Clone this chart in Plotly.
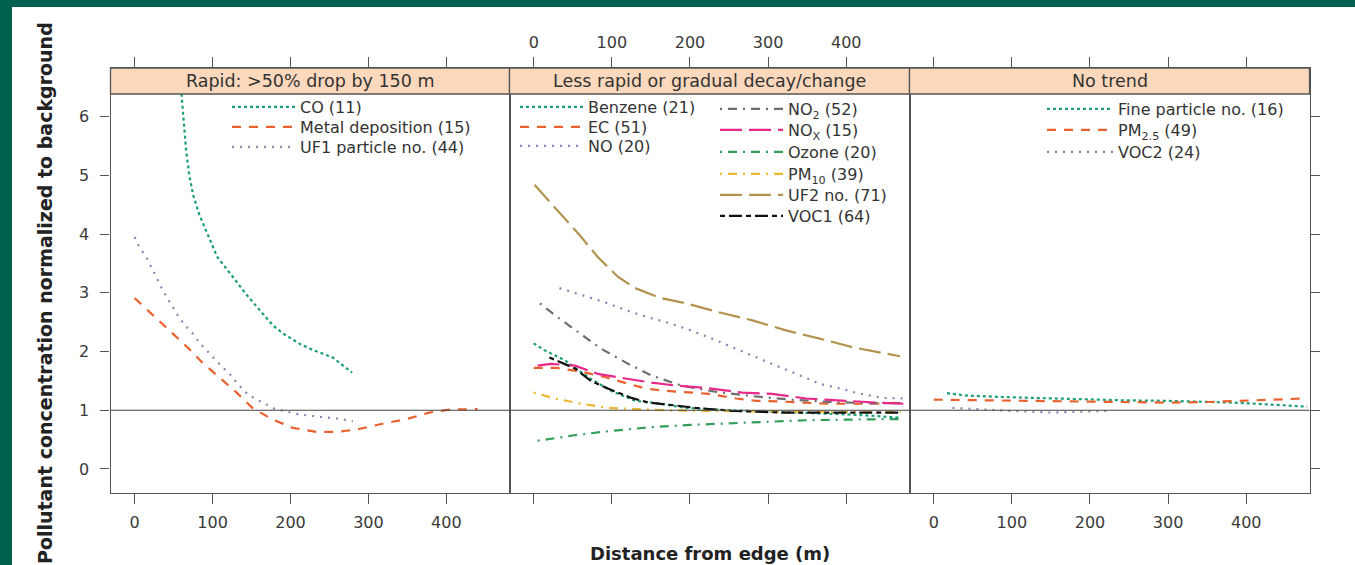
import plotly.graph_objects as go

W, H = 1355, 565

# ---------------- data (distance in m, concentration normalized to background) ----------------
panel_titles = ["Rapid: >50% drop by 150 m", "Less rapid or gradual decay/change", "No trend"]
x_ticks = [0, 100, 200, 300, 400]
y_ticks = [0, 1, 2, 3, 4, 5, 6]

# Panel 1 : rapid
co_x = [57, 60, 63, 66, 70, 75, 83, 94, 106, 126, 144, 157, 177, 190, 212, 228, 254, 279]
co_y = [6.9, 6.39, 6.0, 5.43, 5.01, 4.67, 4.33, 3.99, 3.61, 3.27, 2.96, 2.76, 2.45, 2.31, 2.13, 2.03, 1.90, 1.64]
metal_x = [0, 23, 45, 68, 87, 109, 131, 151, 176, 203, 233, 260, 288, 318, 349, 378, 404, 440]
metal_y = [2.91, 2.62, 2.36, 2.07, 1.81, 1.56, 1.30, 1.04, 0.85, 0.70, 0.63, 0.63, 0.68, 0.77, 0.85, 0.96, 1.01, 1.02]
uf1_x = [0, 6, 15, 21, 28, 34, 41, 49, 56, 65, 75, 83, 92, 103, 113, 124, 132, 143, 154, 167, 180, 194, 207, 222, 237, 250, 265, 280]
uf1_y = [3.95, 3.78, 3.61, 3.44, 3.27, 3.10, 2.93, 2.75, 2.60, 2.44, 2.30, 2.15, 2.02, 1.87, 1.73, 1.59, 1.45, 1.30, 1.20, 1.11, 1.02, 0.98, 0.94, 0.91, 0.89, 0.88, 0.85, 0.81]

# Panel 2 : less rapid / gradual
benzene_x = [0, 14, 40, 70, 99, 130, 164, 195, 250, 300, 350, 400, 440, 470]
benzene_y = [2.14, 2.02, 1.85, 1.56, 1.33, 1.16, 1.11, 1.04, 1.00, 0.98, 0.96, 0.93, 0.90, 0.87]
ec_x = [0, 30, 60, 90, 108, 143, 169, 198, 224, 259, 285, 314, 344, 375, 405, 434, 469]
ec_y = [1.72, 1.72, 1.66, 1.57, 1.50, 1.37, 1.33, 1.30, 1.28, 1.20, 1.16, 1.15, 1.13, 1.11, 1.11, 1.11, 1.13]
no_x = [33, 61, 91, 119, 147, 175, 201, 228, 254, 280, 310, 336, 366, 392, 418, 447, 473]
no_y = [3.08, 2.96, 2.84, 2.70, 2.58, 2.48, 2.36, 2.22, 2.07, 1.93, 1.76, 1.62, 1.45, 1.37, 1.28, 1.21, 1.20]
no2_x = [8, 27, 57, 86, 121, 151, 189, 230, 280, 330, 380, 430, 475]
no2_y = [2.82, 2.62, 2.33, 2.05, 1.79, 1.59, 1.42, 1.32, 1.24, 1.18, 1.14, 1.12, 1.12]
nox_x = [5, 22, 53, 82, 117, 151, 182, 220, 267, 305, 349, 396, 439, 473]
nox_y = [1.76, 1.79, 1.76, 1.62, 1.54, 1.47, 1.42, 1.38, 1.30, 1.28, 1.20, 1.16, 1.13, 1.11]
ozone_x = [5, 50, 100, 150, 200, 250, 300, 350, 400, 470]
ozone_y = [0.48, 0.57, 0.65, 0.71, 0.75, 0.78, 0.81, 0.83, 0.84, 0.85]
pm10_x = [0, 27, 61, 95, 130, 170, 220, 280, 340, 400, 470]
pm10_y = [1.30, 1.20, 1.11, 1.04, 1.02, 1.00, 0.99, 0.98, 0.97, 0.97, 0.97]
uf2_x = [1, 30, 59, 82, 108, 130, 160, 195, 237, 280, 323, 366, 409, 469]
uf2_y = [4.84, 4.41, 3.98, 3.61, 3.27, 3.08, 2.92, 2.82, 2.67, 2.53, 2.36, 2.22, 2.07, 1.92]
voc1_x = [20, 53, 73, 95, 125, 147, 182, 207, 254, 318, 383, 469]
voc1_y = [1.90, 1.71, 1.50, 1.37, 1.21, 1.13, 1.08, 1.04, 0.99, 0.96, 0.96, 0.96]

# Panel 3 : no trend
fine_x = [17, 42, 100, 170, 240, 298, 340, 383, 427, 478]
fine_y = [1.29, 1.25, 1.22, 1.19, 1.17, 1.16, 1.15, 1.13, 1.10, 1.06]
pm25_x = [0, 50, 100, 150, 200, 255, 300, 350, 400, 430, 475]
pm25_y = [1.18, 1.17, 1.16, 1.15, 1.14, 1.13, 1.13, 1.14, 1.16, 1.17, 1.20]
voc2_x = [24, 60, 97, 152, 190, 225]
voc2_y = [1.04, 1.01, 0.99, 0.96, 0.97, 0.99]

# ---------------- styles ----------------
TEAL = "#1B9E77"
ORANGE = "#E8622F"
LAV = "#8787B0"
GRAY = "#6E6E6E"
MAGENTA = "#E7298A"
GREEN = "#359E5B"
GOLD = "#E9B931"
TAN = "#B39350"
BLACK = "#111111"

DOT_DENSE = "3px,3px"
DASH = "9px,8px"
DOT_SPARSE = "2px,6px"
DOTDASH = "2px,6px,9px,6px"
LONGDASH = "22px,7px"
TWODASH = "5px,4px,13px,4px"

FONT = "DejaVu Sans, Verdana, sans-serif"
TXT = "#333333"
AX = "#555555"

series = [
    # (x, y, name, color, dash, panel)
    (co_x, co_y, "CO (11)", TEAL, DOT_DENSE, 1),
    (metal_x, metal_y, "Metal deposition (15)", ORANGE, DASH, 1),
    (uf1_x, uf1_y, "UF1 particle no. (44)", LAV, DOT_SPARSE, 1),
    (benzene_x, benzene_y, "Benzene (21)", TEAL, DOT_DENSE, 2),
    (ec_x, ec_y, "EC (51)", ORANGE, DASH, 2),
    (no_x, no_y, "NO (20)", LAV, DOT_SPARSE, 2),
    (no2_x, no2_y, "NO<sub>2</sub> (52)", GRAY, DOTDASH, 2),
    (nox_x, nox_y, "NO<sub>X</sub> (15)", MAGENTA, LONGDASH, 2),
    (ozone_x, ozone_y, "Ozone (20)", GREEN, DOTDASH, 2),
    (pm10_x, pm10_y, "PM<sub>10</sub> (39)", GOLD, DOTDASH, 2),
    (uf2_x, uf2_y, "UF2 no. (71)", TAN, LONGDASH, 2),
    (voc1_x, voc1_y, "VOC1 (64)", BLACK, TWODASH, 2),
    (fine_x, fine_y, "Fine particle no. (16)", TEAL, DOT_DENSE, 3),
    (pm25_x, pm25_y, "PM<sub>2.5</sub> (49)", ORANGE, DASH, 3),
    (voc2_x, voc2_y, "VOC2 (24)", LAV, DOT_SPARSE, 3),
]

# legend entry placement in page pixels: (sample line start x, sample width, row centre y)
legend_pos = [
    (232, 63, 107), (232, 63, 127), (232, 63, 147),
    (520, 63, 107), (520, 63, 127), (520, 63, 146),
    (720, 63, 109), (720, 63, 130), (720, 63, 152), (720, 63, 174), (720, 63, 195), (720, 63, 216),
    (1047, 66, 109), (1047, 66, 130), (1047, 66, 152),
]


def fx(p):
    return p / W


def fy(p):
    return 1 - p / H


fig = go.Figure()
layout = {}
for k, ((x, y, name, color, dash, panel), (lx, lw, ly)) in enumerate(zip(series, legend_pos)):
    sfx = "" if panel == 1 else str(panel)
    leg = "legend" if k == 0 else "legend" + str(k + 1)
    fig.add_trace(go.Scatter(
        x=x, y=y, name=name, mode="lines",
        line=dict(color=color, width=2.2, dash=dash),
        xaxis="x" + sfx, yaxis="y" + sfx, legend=leg,
        hoverinfo="skip",
    ))
    layout[leg] = dict(x=fx(lx - 5), y=fy(ly - 17), xanchor="left", yanchor="top",
                       itemwidth=lw, bgcolor="rgba(0,0,0,0)", borderwidth=0,
                       font=dict(family=FONT, size=16, color=TXT),
                       itemclick=False, itemdoubleclick=False)

# ---------------- layout ----------------
panel_px = [(110.5, 509.5), (509.5, 909.5), (909.5, 1309.5)]
ydom = [fy(493), fy(68)]
xr = [-31, 481]
yr = [-0.41, 6.83]

tickfont = dict(family=FONT, size=16, color="#3A3A3A")
common_x = dict(range=xr, tickvals=x_ticks, ticks="outside", ticklen=10, tickwidth=1,
                tickcolor=AX, showline=True, linecolor=AX, linewidth=1.3, showgrid=False,
                zeroline=False, tickfont=tickfont, fixedrange=True)
common_y = dict(range=yr, tickvals=y_ticks, showline=True, linecolor=AX, linewidth=1.3,
                showgrid=False, zeroline=False, tickfont=tickfont, fixedrange=True,
                domain=ydom)

layout.update(
    width=W, height=H,
    margin=dict(l=0, r=0, t=0, b=0),
    paper_bgcolor="white", plot_bgcolor="white",
    font=dict(family=FONT, color=TXT),
    showlegend=True,
    xaxis=dict(common_x, domain=[fx(panel_px[0][0]), fx(panel_px[0][1])], anchor="y",
               side="bottom", mirror="ticks", showticklabels=True, ticklabelstandoff=5),
    xaxis2=dict(common_x, domain=[fx(panel_px[1][0]), fx(panel_px[1][1])], anchor="y2",
                side="top", mirror="ticks", showticklabels=True, ticklabelstandoff=2),
    xaxis3=dict(common_x, domain=[fx(panel_px[2][0]), fx(panel_px[2][1])], anchor="y3",
                side="bottom", mirror="ticks", showticklabels=True, ticklabelstandoff=5),
    yaxis=dict(common_y, anchor="x", side="left", mirror=True, ticks="outside", ticklen=9,
               tickcolor=AX, showticklabels=True, ticklabelstandoff=8),
    yaxis2=dict(common_y, anchor="x2", mirror=True, ticks="", showticklabels=False),
    yaxis3=dict(common_y, anchor="x3", side="right", mirror=True, ticks="outside", ticklen=9,
                tickcolor=AX, showticklabels=False),
)
fig.update_layout(**layout)

shapes = []
annotations = []
# horizontal reference line at background level (1) in each panel
for i in range(3):
    sfx = "" if i == 0 else str(i + 1)
    shapes.append(dict(type="line", xref="x" + sfx + " domain", yref="y" + sfx,
                       x0=0, x1=1, y0=1, y1=1, line=dict(color="#444444", width=1.2),
                       layer="above"))
# strips
for i, (a, b) in enumerate(panel_px):
    shapes.append(dict(type="rect", xref="paper", yref="paper",
                       x0=fx(a), x1=fx(b), y0=fy(94), y1=fy(68),
                       fillcolor="#FCD8BC", line=dict(color=AX, width=1.3), layer="above"))
    annotations.append(dict(text=panel_titles[i], xref="paper", yref="paper",
                            x=fx((a + b) / 2), y=fy(81), showarrow=False,
                            xanchor="center", yanchor="middle",
                            font=dict(family=FONT, size=17.5, color=TXT)))
# page border (dark green)
shapes.append(dict(type="rect", xref="paper", yref="paper", x0=0, x1=fx(12), y0=0, y1=1,
                   fillcolor="#00614F", line=dict(width=0), layer="above"))
shapes.append(dict(type="rect", xref="paper", yref="paper", x0=0, x1=1, y0=fy(7), y1=1,
                   fillcolor="#00614F", line=dict(width=0), layer="above"))

annotations.append(dict(text="<b>Distance from edge (m)</b>", xref="paper", yref="paper",
                        x=fx(710), y=fy(553), showarrow=False, xanchor="center",
                        yanchor="middle", font=dict(family=FONT, size=18, color="#222222")))
annotations.append(dict(text="<b>Pollutant concentration normalized to background</b>",
                        xref="paper", yref="paper", x=fx(45), y=fy(293), showarrow=False,
                        textangle=-90, xanchor="center", yanchor="middle",
                        font=dict(family=FONT, size=19, color="#222222")))

fig.update_layout(shapes=shapes, annotations=annotations)
fig.write_html("out.html",
               config={"displayModeBar": False},
               post_script="document.body.style.margin='0px';document.body.style.padding='0px';")
